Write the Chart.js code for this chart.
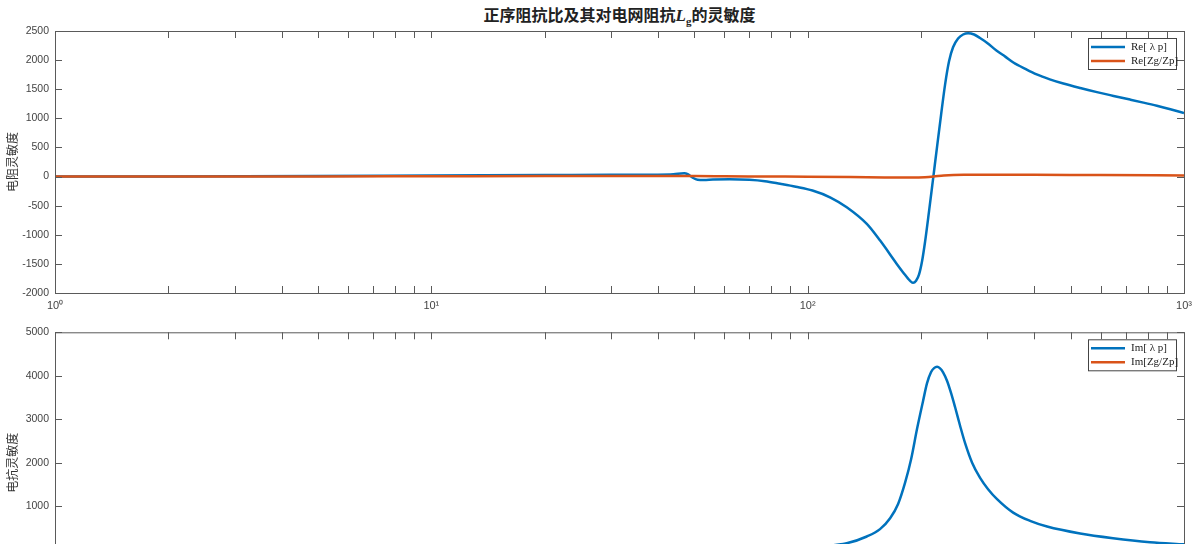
<!DOCTYPE html>
<html>
<head>
<meta charset="utf-8">
<script src="https://cdn.jsdelivr.net/npm/chart.js@4/dist/chart.umd.min.js"></script>
<style>
  html, body { margin: 0; padding: 0; background: #fff; width: 1200px; height: 544px; overflow: hidden; }
  #title {
    position: absolute; left: 0; top: 2px; width: 1239px; text-align: center;
    font-family: "Noto Sans CJK SC", sans-serif; font-weight: bold; font-size: 16px; color: #222;
  }
  #title i { font-family: "Liberation Serif", serif; font-size: 17px; }
  #title sub { font-family: "Liberation Serif", serif; font-size: 11px; }
  #top { position: absolute; left: 0; top: 0; }
  #bottom { position: absolute; left: 0; top: 320px; }
</style>
</head>
<body>
<div id="title">正序阻抗比及其对电网阻抗<i>L</i><sub>g</sub>的灵敏度</div>
<canvas id="top" width="1200" height="320"></canvas>
<canvas id="bottom" width="1200" height="300"></canvas>
<script>
// 频率 (Hz) 与各曲线数值
const fReLam = [1, 2, 5, 10, 20, 30, 40, 44, 47, 48, 49.5, 51, 53, 56, 62, 70, 77, 84.5, 93, 103,
  115, 127, 143.6, 155.8, 172.5, 180.4, 185, 187.7, 190.6, 194.1, 197.7, 201.4, 205.1, 210.2, 215.4, 220.7, 226.2, 231.8, 237.5, 243.4,
  251, 258.8, 266.9, 276.8, 287, 300, 318, 335, 352, 380, 406, 440, 478, 530, 587, 650, 719, 780, 847, 920, 1000];
const reLam = [0, 3, 10, 18, 25, 30, 33, 40, 55, 40, -20, -55, -60, -50, -45, -55, -80, -125, -175, -240,
  -360, -527, -813, -1100, -1500, -1668, -1757, -1800, -1826, -1790, -1680, -1450, -1120, -590, -40, 510, 1060, 1580, 1980, 2220,
  2370, 2440, 2462, 2440, 2380, 2295, 2160, 2060, 1960, 1845, 1755, 1670, 1597, 1520, 1450, 1385, 1322, 1270, 1215, 1155, 1090];

const fReZ = [1, 5, 10, 20, 40, 50, 60, 80, 100, 130, 160, 190, 205, 216, 230, 260, 300, 400, 600, 1000];
const reZ = [0, 2, 5, 8, 10, 8, 5, 0, -3, -8, -15, -18, -12, 0, 20, 32, 32, 30, 25, 20];

const fImLam = [1, 10, 30, 60, 90, 110, 127, 143.6, 155.7, 165.6, 173.9, 181.5, 188.3, 195.3, 202.6, 207.6, 212.8, 216.7, 220.7, 224.8,
  229, 234.7, 240.5, 246.4, 254.1, 262, 273.5, 287.2, 301.6, 318.6, 351.6, 389.9, 432.7, 529.6, 647.9, 812.5, 1000];
const imLam = [0, 5, 12, 25, 45, 80, 143, 300, 470, 720, 1050, 1540, 2080, 2780, 3420, 3830, 4085, 4175, 4205, 4170,
  4080, 3880, 3600, 3280, 2850, 2450, 2000, 1650, 1390, 1160, 850, 660, 530, 370, 262, 170, 120];

const fImZ = [1, 10, 100, 200, 220, 250, 400, 1000];
const imZ = [0, 2, 10, 40, 60, 40, 20, 10];

const xTicks = [1, 2, 3, 4, 5, 6, 7, 8, 9, 10, 20, 30, 40, 50, 60, 70, 80, 90, 100, 200, 300, 400, 500, 600, 700, 800, 900, 1000];
const supers = { 0: '\u2070', 1: '\u00b9', 2: '\u00b2', 3: '\u00b3' };

const BLUE = '#0072BD';
const ORANGE = '#D95319';
const AXIS = '#5a5a5a';
const TICKFONT = { family: 'Liberation Sans, Arial, sans-serif', size: 10.5 };

function pts(xs, ys) {
  return xs.map((x, i) => ({ x: x, y: ys[i] }));
}

// 坐标框、内向刻度和图例
const framePlugin = {
  id: 'frame',
  afterDatasetsDraw(chart) {
    const ctx = chart.ctx;
    const a = chart.chartArea;
    const tl = 7;
    ctx.save();
    ctx.strokeStyle = AXIS;
    ctx.lineWidth = 1;
    ctx.strokeRect(a.left + 0.5, a.top + 0.5, a.right - a.left, a.bottom - a.top);
    ctx.beginPath();
    chart.scales.x.ticks.forEach(t => {
      const px = Math.round(chart.scales.x.getPixelForValue(t.value)) + 0.5;
      ctx.moveTo(px, a.bottom); ctx.lineTo(px, a.bottom - tl);
      ctx.moveTo(px, a.top); ctx.lineTo(px, a.top + tl);
    });
    chart.scales.y.ticks.forEach(t => {
      const py = Math.round(chart.scales.y.getPixelForValue(t.value)) + 0.5;
      ctx.moveTo(a.left, py); ctx.lineTo(a.left + tl, py);
      ctx.moveTo(a.right, py); ctx.lineTo(a.right - tl, py);
    });
    ctx.stroke();

    // 图例
    const bx = a.right - 96, by = a.top + 7, bw = 88, bh = 31;
    ctx.fillStyle = '#fff';
    ctx.fillRect(bx, by, bw, bh);
    ctx.strokeStyle = '#444';
    ctx.strokeRect(bx + 0.5, by + 0.5, bw, bh);
    ctx.font = '11px "Liberation Serif", serif';
    ctx.textBaseline = 'middle';
    chart.data.datasets.forEach((ds, i) => {
      const yy = by + 9 + i * 14;
      ctx.strokeStyle = ds.borderColor;
      ctx.lineWidth = 2.5;
      ctx.beginPath();
      ctx.moveTo(bx + 3, yy); ctx.lineTo(bx + 37, yy);
      ctx.stroke();
      ctx.fillStyle = '#222';
      ctx.fillText(ds.label, bx + 43, yy);
    });
    ctx.restore();
  }
};

function makeChart(id, datasets, yMin, yMax, yStep, yTitle, padTop) {
  return new Chart(document.getElementById(id), {
    type: 'line',
    data: { datasets: datasets },
    options: {
      responsive: false,
      animation: false,
      layout: { padding: { top: padTop, right: 16, left: 0, bottom: 0 } },
      plugins: { legend: { display: false }, tooltip: { enabled: false } },
      elements: { point: { radius: 0 }, line: { cubicInterpolationMode: 'monotone', borderWidth: 2.5 } },
      scales: {
        x: {
          type: 'logarithmic', min: 1, max: 1000,
          grid: { display: false, drawTicks: false },
          border: { display: false },
          afterBuildTicks: s => { s.ticks = xTicks.map(v => ({ value: v })); },
          afterFit: s => { s.height = 27; },
          ticks: {
            autoSkip: false, maxRotation: 0, padding: 6, color: '#444', font: { family: TICKFONT.family, size: 11 },
            callback: v => {
              const e = Math.log10(v);
              return Math.abs(e - Math.round(e)) < 1e-9 ? '10' + supers[Math.round(e)] : '';
            }
          }
        },
        y: {
          min: yMin, max: yMax,
          grid: { display: false, drawTicks: false },
          border: { display: false },
          afterFit: s => { s.width = 55; },
          ticks: { stepSize: yStep, padding: 6, color: '#444', font: TICKFONT, callback: v => String(v) },
          title: {
            display: true, text: yTitle, color: '#333', padding: { top: 5, bottom: 0 },
            font: { family: 'Noto Sans CJK SC, sans-serif', size: 12 }
          }
        }
      }
    },
    plugins: [framePlugin]
  });
}

makeChart('top', [
  { label: 'Re[ λ p]', data: pts(fReLam, reLam), borderColor: BLUE, order: 0 },
  { label: 'Re[Zg/Zp]', data: pts(fReZ, reZ), borderColor: ORANGE, order: -1 }
], -2000, 2500, 500, '电阻灵敏度', 31);

makeChart('bottom', [
  { label: 'Im[ λ p]', data: pts(fImLam, imLam), borderColor: BLUE, order: 0 },
  { label: 'Im[Zg/Zp]', data: pts(fImZ, imZ), borderColor: ORANGE, order: -1 }
], -1000, 5000, 1000, '电抗灵敏度', 12);
</script>
</body>
</html>
